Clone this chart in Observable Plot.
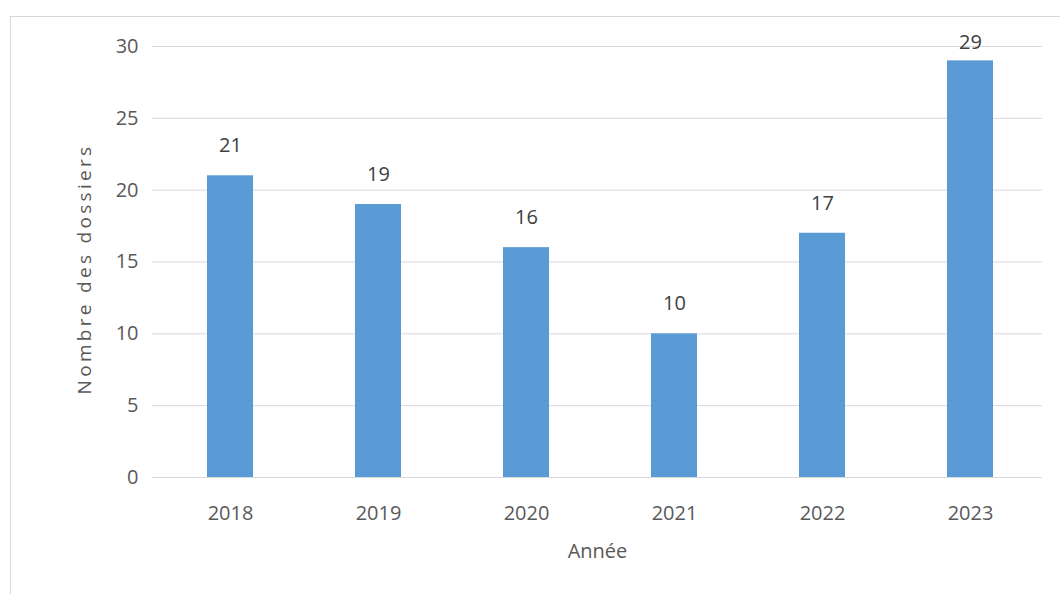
<!DOCTYPE html>
<html>
<head>
<meta charset="utf-8">
<script src="https://cdn.jsdelivr.net/npm/d3@7"></script>
<script src="https://cdn.jsdelivr.net/npm/@observablehq/plot@0.6"></script>
<style>
  html, body { margin: 0; padding: 0; background: #fff; }
  #wrap { position: relative; width: 1060px; height: 594px; overflow: hidden; }
  #frame { position: absolute; left: 10px; top: 16px; width: 1100px; height: 700px;
           border-left: 1px solid #d9d9d9; border-top: 1px solid #d9d9d9; }
  #chart { position: absolute; left: 0; top: 0; }
</style>
</head>
<body>
<div id="wrap"><div id="frame"></div><div id="chart"></div></div>
<script>
const years = ["2018", "2019", "2020", "2021", "2022", "2023"];
const counts = [21, 19, 16, 10, 17, 29];
const yTicks = [0, 5, 10, 15, 20, 25, 30];
const yTitle = "Nombre des dossiers";
const xTitle = "Année";

const data = years.map((y, i) => ({year: y, value: counts[i]}));
const font = "'Open Sans', sans-serif";
const grey = "#595959";

const chart = Plot.plot({
  width: 1060,
  height: 594,
  marginLeft: 155,
  marginRight: 15,
  marginTop: 46,
  marginBottom: 117,
  style: {fontFamily: font, fontSize: "20px", color: grey, background: "transparent"},
  x: {domain: years, paddingInner: 0.69, paddingOuter: 0.345, label: null},
  y: {domain: [0, 30], label: null},
  marks: [
    Plot.ruleY(yTicks, {stroke: "#d9d9d9", strokeWidth: 1, insetLeft: -3, insetRight: 3}),
    Plot.barY(data, {x: "year", y: "value", fill: "#5b9bd5"}),
    Plot.text(data, {x: "year", y: d => Math.min(d.value + 2.1, 30.3), text: d => String(d.value),
      fill: "#404040", fontSize: 20}),
    Plot.axisY({ticks: yTicks, tickSize: 0, tickPadding: 17, label: null, fill: grey, fontSize: 20}),
    Plot.axisX({tickSize: 0, tickPadding: 28, label: null, fill: grey, fontSize: 20}),
    Plot.text([xTitle], {frameAnchor: "bottom", lineAnchor: "middle", dy: 74, dx: -3, fill: grey, fontSize: 20}),
    Plot.text([yTitle], {frameAnchor: "left", textAnchor: "middle", lineAnchor: "middle",
      dx: -71, dy: 7, rotate: -90, fill: grey, fontSize: 19})
  ]
});
d3.select(chart).selectAll("text").filter(function() { return this.textContent === yTitle; })
  .attr("letter-spacing", "3.3px");
document.getElementById("chart").appendChild(chart);
</script>
</body>
</html>
